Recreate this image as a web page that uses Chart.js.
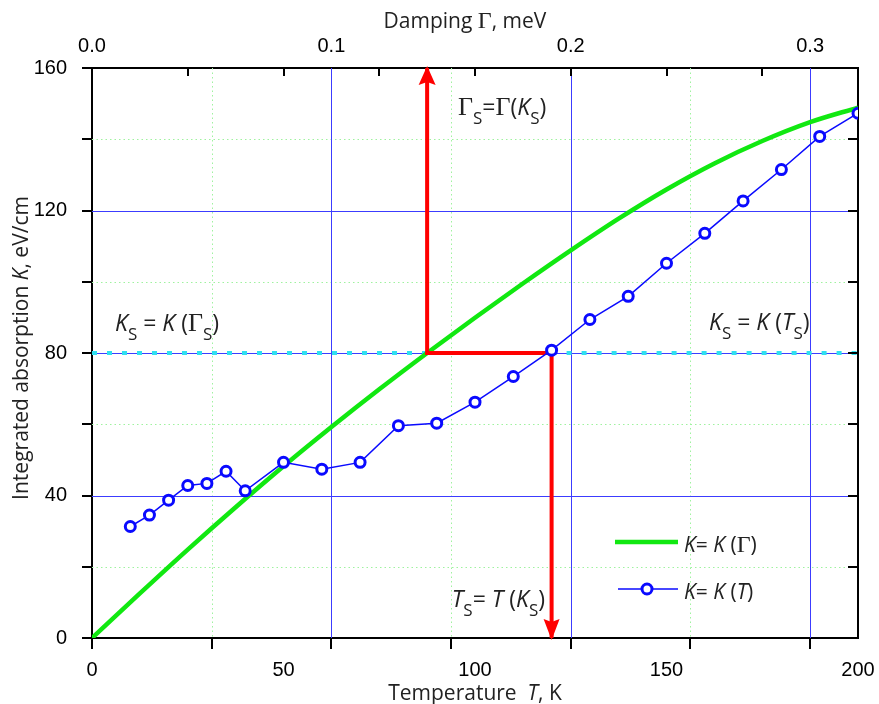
<!DOCTYPE html>
<html>
<head>
<meta charset="utf-8">
<script src="https://cdn.jsdelivr.net/npm/chart.js@4.4.1/dist/chart.umd.min.js"></script>
<style>
  html, body { margin: 0; padding: 0; background: #fff; }
  #wrap { width: 879px; height: 704px; position: relative; }
</style>
</head>
<body>
<div id="wrap"><canvas id="chart"></canvas></div>
<script>
'use strict';

// ─── Data ─────────────────────────────────────────────────────────────────────
// K(T): measured integrated absorption vs temperature (bottom axis)
const tempK   = [10, 15, 20, 25, 30, 35, 40, 50, 60, 70, 80, 90, 100, 110, 120, 130, 140, 150, 160, 170, 180, 190, 200];
const absorpT = [31.3, 34.5, 38.7, 42.8, 43.4, 46.8, 41.3, 49.3, 47.4, 49.3, 59.6, 60.3, 66.2, 73.4, 80.8, 89.4, 95.9, 105.2, 113.6, 122.7, 131.5, 140.8, 147.3];

// K(Γ): calculated absorption vs damping (top axis)
const gammaMeV    = [0, 0.02, 0.04, 0.06, 0.08, 0.10, 0.12, 0.14, 0.16, 0.18, 0.20, 0.22, 0.24, 0.26, 0.28, 0.30, 0.32];
const absorpGamma = [0, 12.5, 24.8, 36.7, 48.2, 59.2, 69.8, 80.0, 89.9, 99.5, 108.8, 117.7, 125.9, 133.2, 139.5, 144.8, 148.9];

// construction lines K_S -> Γ_S, K_S -> T_S
const K_S     = 80;
const T_GS    = 87.5;   // temperature position of Γ_S on the shared axis
const T_S     = 120;
const redT    = [T_GS, T_GS, T_S, T_S];
const redK    = [160, K_S, K_S, 0];
const cyanT   = [0, T_GS, 100, T_S, 200];
const cyanK   = [K_S, K_S, null, K_S, K_S];

// axes
const T_MAX = 200, GAMMA_MAX = 0.32, K_MAX = 160;
const gammaGridMajor = [0.1, 0.2, 0.3];
const gammaGridMinor = [0.05, 0.15, 0.25];
const kGridMajor     = [40, 80, 120];
const kGridMinor     = [20, 60, 100, 140];
const gammaTickMarks = [0, 0.05, 0.1, 0.15, 0.2, 0.25, 0.3];
const tempTickMarks  = [0, 25, 50, 75, 100, 125, 150, 175, 200];
const kTickMarks     = [0, 20, 40, 60, 80, 100, 120, 140, 160];

// ─── Colours & fonts ──────────────────────────────────────────────────────────
const GREEN = '#11e811';
const BLUE  = '#0a0aff';
const RED   = '#ff0000';
const CYAN  = '#2fe0f0';
const NUM_FONT = { family: '"Liberation Sans", Arial, sans-serif', size: 20 };
const TXT = '"Open Sans", "Noto Sans", sans-serif';

// ─── Mixed-style text (italic symbols, subscripts, Greek) ─────────────────────
function runFont(style, size) {
  if (style === 'g') return `${Math.round(size * 1.12)}px "Liberation Serif", serif`;
  if (style === 'i') return `italic ${size}px ${TXT}`;
  if (style === 's') return `${Math.round(size * 0.74)}px ${TXT}`;
  return `${size}px ${TXT}`;
}
function runsWidth(ctx, runs, size) {
  let w = 0;
  for (const [t, st] of runs) { ctx.font = runFont(st, size); w += ctx.measureText(t).width; }
  return w;
}
function drawRuns(ctx, runs, x, y, size, color) {
  ctx.save();
  ctx.fillStyle = color || '#222';
  ctx.textAlign = 'left';
  ctx.textBaseline = 'alphabetic';
  let cx = x;
  for (const [t, st] of runs) {
    ctx.font = runFont(st, size);
    ctx.fillText(t, cx, st === 's' ? y + size * 0.38 : y);
    cx += ctx.measureText(t).width;
  }
  ctx.restore();
}

const titleBottom = [['Temperature  ', 'n'], ['T', 'i'], [', K', 'n']];
const titleTop    = [['Damping ', 'n'], ['Γ', 'g'], [', meV', 'n']];
const titleLeft   = [['Integrated absorption ', 'n'], ['K', 'i'], [', eV/cm', 'n']];

// annotation anchors: left edge, or right edge when `end` is given
const labels = [
  { runs: [['Γ', 'g'], ['S', 's'], ['=', 'n'], ['Γ', 'g'], ['(', 'n'], ['K', 'i'], ['S', 's'], [')', 'n']], x: 458, y: 115 },
  { runs: [['K', 'i'], ['S', 's'], [' = ', 'n'], ['K', 'i'], [' (', 'n'], ['Γ', 'g'], ['S', 's'], [')', 'n']], x: 115, y: 331 },
  { runs: [['K', 'i'], ['S', 's'], [' = ', 'n'], ['K', 'i'], [' (', 'n'], ['T', 'i'], ['S', 's'], [')', 'n']], x: 709, y: 330 },
  { runs: [['T', 'i'], ['S', 's'], ['= ', 'n'], ['T', 'i'], [' (', 'n'], ['K', 'i'], ['S', 's'], [')', 'n']], end: 545, y: 607 },
];

const legendGamma = [['K', 'i'], ['= ', 'n'], ['K', 'i'], [' (', 'n'], ['Γ', 'g'], [')', 'n']];
const legendTemp  = [['K', 'i'], ['= ', 'n'], ['K', 'i'], [' (', 'n'], ['T', 'i'], [')', 'n']];

// ─── Plugin: grid, tick marks, arrows, titles, legend ─────────────────────────
const decor = {
  id: 'decor',
  beforeDatasetsDraw(chart) {
    const { ctx, chartArea: a, scales } = chart;
    const xg = scales.xG, y = scales.y;
    ctx.save();
    ctx.lineWidth = 1;
    // minor dotted green
    ctx.strokeStyle = '#9ff29f';
    ctx.setLineDash([1.5, 3]);
    ctx.beginPath();
    gammaGridMinor.forEach(v => { const px = Math.round(xg.getPixelForValue(v)) + 0.5; ctx.moveTo(px, a.top); ctx.lineTo(px, a.bottom); });
    kGridMinor.forEach(v => { const py = Math.round(y.getPixelForValue(v)) + 0.5; ctx.moveTo(a.left, py); ctx.lineTo(a.right, py); });
    ctx.stroke();
    // major solid blue
    ctx.setLineDash([]);
    ctx.strokeStyle = '#3c3cff';
    ctx.beginPath();
    gammaGridMajor.forEach(v => { const px = Math.round(xg.getPixelForValue(v)) + 0.5; ctx.moveTo(px, a.top); ctx.lineTo(px, a.bottom); });
    kGridMajor.forEach(v => { const py = Math.round(y.getPixelForValue(v)) + 0.5; ctx.moveTo(a.left, py); ctx.lineTo(a.right, py); });
    ctx.stroke();
    ctx.restore();
  },
  afterDatasetsDraw(chart) {
    const { ctx, chartArea: a, scales } = chart;
    const x = scales.x, xg = scales.xG, y = scales.y;

    // arrow heads at both ends of the red construction line
    ctx.save();
    ctx.fillStyle = RED;
    const up = { px: x.getPixelForValue(redT[0]), py: y.getPixelForValue(redK[0]) };
    const dn = { px: x.getPixelForValue(redT[3]), py: y.getPixelForValue(redK[3]) };
    ctx.beginPath();
    ctx.moveTo(up.px, up.py - 2); ctx.lineTo(up.px - 8.5, up.py + 17); ctx.lineTo(up.px, up.py + 14); ctx.lineTo(up.px + 8.5, up.py + 17);
    ctx.closePath(); ctx.fill();
    ctx.beginPath();
    ctx.moveTo(dn.px, dn.py + 2); ctx.lineTo(dn.px - 8, dn.py - 19); ctx.lineTo(dn.px, dn.py - 16); ctx.lineTo(dn.px + 8, dn.py - 19);
    ctx.closePath(); ctx.fill();
    ctx.restore();

    // tick marks: bottom at Γ steps (out), top at T steps (in), left out, right in
    ctx.save();
    ctx.strokeStyle = '#000';
    ctx.lineWidth = 2;
    ctx.beginPath();
    gammaTickMarks.forEach(v => { const px = Math.round(xg.getPixelForValue(v)); ctx.moveTo(px, a.bottom); ctx.lineTo(px, a.bottom + 11); });
    tempTickMarks.forEach(v => { const px = Math.round(x.getPixelForValue(v)); ctx.moveTo(px, a.top); ctx.lineTo(px, a.top + 8); });
    kTickMarks.forEach(v => {
      const py = Math.round(y.getPixelForValue(v));
      ctx.moveTo(a.left - 10, py); ctx.lineTo(a.left, py);
      ctx.moveTo(a.right, py); ctx.lineTo(a.right - 10, py);
    });
    ctx.stroke();
    ctx.restore();

    // annotations
    labels.forEach(l => {
      const lx = l.end != null ? l.end - runsWidth(ctx, l.runs, 23) : l.x;
      drawRuns(ctx, l.runs, lx, l.y, 23);
    });

    // axis titles
    const tSize = 21;
    drawRuns(ctx, titleBottom, (a.left + a.right) / 2 - runsWidth(ctx, titleBottom, tSize) / 2, 700, tSize);
    drawRuns(ctx, titleTop, (a.left + a.right) / 2 - runsWidth(ctx, titleTop, tSize) / 2 - 10, 28, tSize);
    ctx.save();
    ctx.translate(28, (a.top + a.bottom) / 2 - 5);
    ctx.rotate(-Math.PI / 2);
    drawRuns(ctx, titleLeft, -runsWidth(ctx, titleLeft, tSize) / 2, 0, tSize);
    ctx.restore();

    // legend
    ctx.save();
    ctx.lineCap = 'butt';
    ctx.strokeStyle = GREEN; ctx.lineWidth = 4.5;
    ctx.beginPath(); ctx.moveTo(615, 542); ctx.lineTo(678, 542); ctx.stroke();
    ctx.strokeStyle = BLUE; ctx.lineWidth = 1.5;
    ctx.beginPath(); ctx.moveTo(618, 589); ctx.lineTo(678, 589); ctx.stroke();
    ctx.fillStyle = '#fff'; ctx.lineWidth = 3;
    ctx.beginPath(); ctx.arc(647, 589, 5, 0, Math.PI * 2); ctx.fill(); ctx.stroke();
    ctx.restore();
    drawRuns(ctx, legendGamma, 684, 552, 21);
    drawRuns(ctx, legendTemp, 684, 599, 21);
  },
};

// ─── Chart ────────────────────────────────────────────────────────────────────
const borderOpts = { display: true, color: '#000', width: 2 };
const fixSize = (w, h) => s => {
  if (w != null) s.width = w;
  if (h != null) s.height = h;
  s.paddingLeft = s.paddingRight = s.paddingTop = s.paddingBottom = 0;
};

new Chart(document.getElementById('chart').getContext('2d'), {
  type: 'line',
  data: {
    datasets: [
      {
        label: 'K = K(T)',
        data: tempK.map((t, i) => ({ x: t, y: absorpT[i] })),
        xAxisID: 'x', yAxisID: 'y',
        borderColor: BLUE, borderWidth: 1.5,
        pointRadius: 5, pointBorderWidth: 3,
        pointBackgroundColor: '#fff', pointBorderColor: BLUE,
        tension: 0, order: 0,
      },
      {
        label: 'construction',
        data: redT.map((t, i) => ({ x: t, y: redK[i] })),
        xAxisID: 'x', yAxisID: 'y',
        borderColor: RED, borderWidth: 4, pointRadius: 0,
        borderJoinStyle: 'miter', tension: 0, order: 1,
      },
      {
        label: 'K = K(Γ)',
        data: gammaMeV.map((g, i) => ({ x: g, y: absorpGamma[i] })),
        xAxisID: 'xG', yAxisID: 'y',
        borderColor: GREEN, borderWidth: 4.5, pointRadius: 0,
        cubicInterpolationMode: 'monotone', order: 2,
      },
      {
        label: 'K_S',
        data: cyanT.map((t, i) => ({ x: t, y: cyanK[i] })),
        xAxisID: 'x', yAxisID: 'y',
        borderColor: CYAN, borderWidth: 4, borderDash: [5, 10],
        pointRadius: 0, spanGaps: false, tension: 0, order: 3,
      },
    ],
  },
  options: {
    responsive: true,
    maintainAspectRatio: false,
    animation: false,
    layout: { padding: 0 },
    plugins: { legend: { display: false }, tooltip: { enabled: false } },
    scales: {
      x: {
        type: 'linear', position: 'bottom', min: 0, max: T_MAX,
        ticks: { stepSize: 50, color: '#000', font: NUM_FONT, padding: 12, maxRotation: 0, autoSkip: false },
        grid: { display: false }, border: borderOpts,
        afterFit: fixSize(null, 66),
      },
      xG: {
        type: 'linear', position: 'top', min: 0, max: GAMMA_MAX,
        ticks: { stepSize: 0.1, includeBounds: false, color: '#000', font: NUM_FONT, padding: 2, maxRotation: 0, autoSkip: false,
                 callback: v => Number(v).toFixed(1) },
        grid: { display: false }, border: borderOpts,
        afterFit: fixSize(null, 68),
      },
      y: {
        type: 'linear', position: 'left', min: 0, max: K_MAX,
        ticks: { stepSize: 40, color: '#000', font: NUM_FONT, padding: 17 },
        grid: { display: false }, border: borderOpts,
        afterFit: fixSize(92, null),
      },
      yR: {
        type: 'linear', position: 'right', min: 0, max: K_MAX,
        ticks: { display: false },
        grid: { display: false }, border: borderOpts,
        afterFit: fixSize(21, null),
      },
    },
  },
  plugins: [decor],
});
</script>
</body>
</html>
